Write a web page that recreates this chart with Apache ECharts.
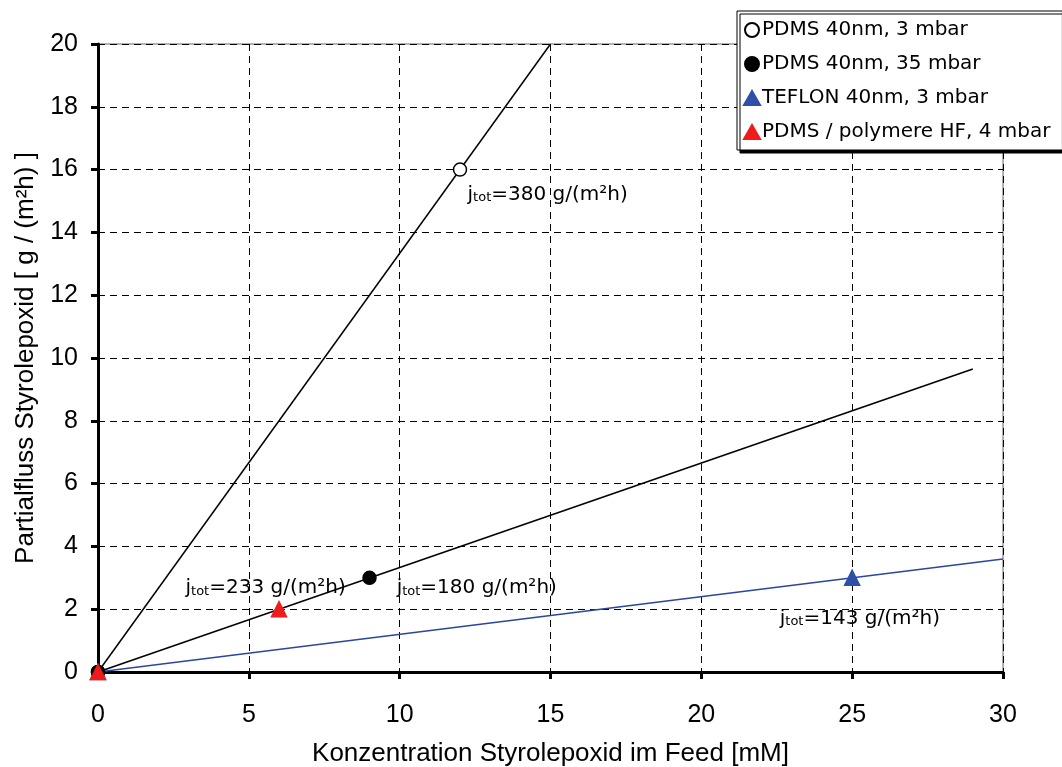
<!DOCTYPE html>
<html>
<head>
<meta charset="utf-8">
<script src="https://cdn.jsdelivr.net/npm/echarts@6/dist/echarts.min.js"></script>
<style>
  html, body { margin: 0; padding: 0; background: #fff; }
  #chart { width: 1062px; height: 767px; }
</style>
</head>
<body>
<div id="chart"></div>
<script>
// Axis ticks
const xTicks = [0, 5, 10, 15, 20, 25, 30];
const yTicks = [0, 2, 4, 6, 8, 10, 12, 14, 16, 18, 20];

// Measured points [concentration mM, partial flux g/(m²h)]
const seriesNames = [
  'PDMS 40nm, 3 mbar',
  'PDMS 40nm, 35 mbar',
  'TEFLON 40nm, 3 mbar',
  'PDMS / polymere HF, 4 mbar'
];
const pdms3 = [[0, 0], [12, 16]];
const pdms35 = [[0, 0], [9, 3]];
const teflon3 = [[0, 0], [25, 3]];
const pdmsHF4 = [[0, 0], [6, 2]];

// Trend lines through the origin
const trendSteep = [[0, 0], [15, 20]];
const trendMid = [[0, 0], [29, 9.65]];
const trendTeflon = [[0, 0], [30, 3.6]];

// Total-flux annotations: anchor [x, y] and value
const fluxNotes = [
  { at: [12.25, 15.3], value: '380' },
  { at: [2.9, 2.78], value: '233' },
  { at: [9.9, 2.78], value: '180' },
  { at: [22.6, 1.8], value: '143' }
];

const chart = echarts.init(document.getElementById('chart'));

const labelFont = 'Liberation Sans, Arial, sans-serif';
const noteFont = 'DejaVu Sans, Verdana, sans-serif';

function lineSeries(data, color) {
  return {
    type: 'line', data: data, symbol: 'none', silent: true,
    lineStyle: { color: color, width: 1.5 }, z: 2
  };
}

function pointSeries(name, data, symbol, fill, border) {
  return {
    name: name, type: 'scatter', data: data, symbol: symbol,
    symbolSize: symbol === 'circle' ? 13 : 15,
    itemStyle: { color: fill, borderColor: border, borderWidth: 1.5, opacity: 1 },
    z: 5
  };
}

chart.setOption({
  animation: false,
  backgroundColor: '#fff',
  grid: {
    left: 98, right: 59, top: 44, bottom: 95,
    outerBoundsMode: 'none', containLabel: false,
    show: true, borderColor: '#999', borderWidth: 1.5
  },
  xAxis: {
    type: 'value', min: xTicks[0], max: xTicks[xTicks.length - 1], interval: 5,
    name: 'Konzentration Styrolepoxid im Feed [mM]', nameLocation: 'middle', nameGap: 69,
    nameTextStyle: { fontFamily: labelFont, fontSize: 26, color: '#000' },
    axisLine: { onZero: false, lineStyle: { color: '#000', width: 3 } },
    axisTick: { show: true, length: 7, lineStyle: { color: '#000', width: 3 } },
    axisLabel: { fontFamily: labelFont, fontSize: 25, color: '#000', margin: 31 },
    splitLine: { show: true, lineStyle: { color: '#000', type: [7, 5], width: 1 } }
  },
  yAxis: {
    type: 'value', min: yTicks[0], max: yTicks[yTicks.length - 1], interval: 2,
    name: 'Partialfluss Styrolepoxid [ g / (m²h) ]', nameLocation: 'middle', nameGap: 59,
    nameTextStyle: { fontFamily: labelFont, fontSize: 26, color: '#000' },
    axisLine: { onZero: false, lineStyle: { color: '#000', width: 3 } },
    axisTick: { show: true, length: 7, lineStyle: { color: '#000', width: 3 } },
    axisLabel: { fontFamily: labelFont, fontSize: 25, color: '#000', margin: 20 },
    splitLine: { show: true, lineStyle: { color: '#000', type: [7, 5], width: 1 } }
  },
  legend: {
    orient: 'vertical', left: 737, top: 11,
    data: seriesNames,
    itemWidth: 16, itemHeight: 14, itemGap: 14,
    padding: [9, 12, 8, 6],
    backgroundColor: '#fff', borderColor: '#000', borderWidth: 1,
    shadowColor: '#000', shadowBlur: 0, shadowOffsetX: 3, shadowOffsetY: 3,
    textStyle: { fontFamily: noteFont, fontSize: 20, color: '#000', padding: [0, 0, 0, -3] }
  },
  series: [
    lineSeries(trendSteep, '#000'),
    lineSeries(trendMid, '#000'),
    lineSeries(trendTeflon, '#2a46a0'),
    pointSeries(seriesNames[0], pdms3, 'circle', '#fff', '#000'),
    pointSeries(seriesNames[2], teflon3, 'triangle', '#2f4fa8', '#2f4fa8'),
    pointSeries(seriesNames[1], pdms35, 'circle', '#000', '#000'),
    pointSeries(seriesNames[3], pdmsHF4, 'triangle', '#ee1c1c', '#ee1c1c'),
    {
      type: 'scatter', silent: true, symbolSize: 0, z: 6,
      itemStyle: { opacity: 1 },
      data: fluxNotes.map(n => ({ value: n.at, note: n.value })),
      label: {
        show: true, position: 'right', distance: 0, color: '#000', opacity: 1,
        formatter: p => '{j|j}{s|tot}{t|=' + p.data.note + ' g/(m²h)}',
        rich: {
          j: { fontFamily: noteFont, fontSize: 20, color: '#000', lineHeight: 26, verticalAlign: 'bottom' },
          s: { fontFamily: noteFont, fontSize: 13, color: '#000', lineHeight: 26, verticalAlign: 'bottom' },
          t: { fontFamily: noteFont, fontSize: 20, color: '#000', lineHeight: 26, verticalAlign: 'bottom' }
        }
      }
    }
  ]
});
</script>
</body>
</html>
